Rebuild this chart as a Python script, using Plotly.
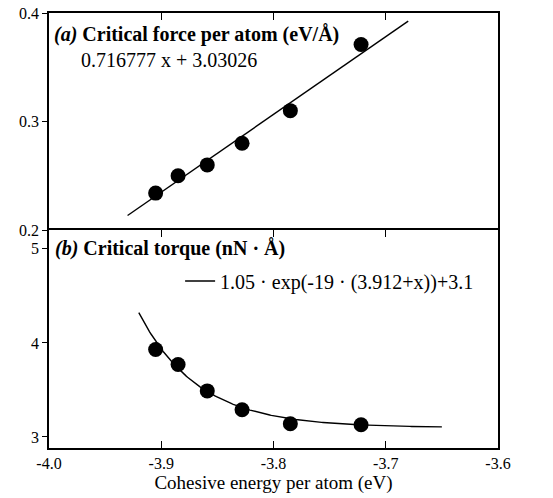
import numpy as np
import plotly.graph_objects as go

# ---- data ----
energy = [-3.905, -3.885, -3.859, -3.828, -3.785, -3.722]       # cohesive energy per atom (eV)
force = [0.234, 0.250, 0.260, 0.280, 0.310, 0.371]             # critical force per atom (eV/Å)
torque = [3.93, 3.77, 3.49, 3.29, 3.14, 3.13]                  # critical torque (nN·Å)

# fit (a): linear, as printed on the chart
force_slope, force_intercept = 0.716777, 3.03026
force_fit_x = [-3.93, -3.68]
# fit (b): 1.05*exp(-19*(3.912+x))+3.1, as printed in the legend
tq_amp, tq_rate, tq_shift, tq_base = 1.05, 19.0, 3.912, 3.1
torque_fit_range = (-3.92, -3.65)

x_ticks = [-4.0, -3.9, -3.8, -3.7, -3.6]
x_tick_labels = ["-4.0", "-3.9", "-3.8", "-3.7", "-3.6"]
force_ticks = [0.2, 0.3, 0.4]
force_tick_labels = ["0.2", "0.3", "0.4"]
torque_ticks = [3, 4, 5]
torque_tick_labels = ["3", "4", "5"]

FONT = "Liberation Serif, Times New Roman, serif"

fx = np.array(force_fit_x)
fy = force_slope * fx + force_intercept
tx = np.linspace(torque_fit_range[0], torque_fit_range[1], 200)
ty = tq_amp * np.exp(-tq_rate * (tq_shift + tx)) + tq_base

fig = go.Figure()
# top panel
fig.add_trace(go.Scatter(x=fx, y=fy, mode="lines", xaxis="x2", yaxis="y",
                         line=dict(color="black", width=1.4), showlegend=False))
fig.add_trace(go.Scatter(x=energy, y=force, mode="markers", xaxis="x2", yaxis="y",
                         marker=dict(color="black", size=15), showlegend=False))
# bottom panel
fig.add_trace(go.Scatter(x=tx, y=ty, mode="lines", xaxis="x", yaxis="y2",
                         line=dict(color="black", width=1.4),
                         name="1.05 · exp(-19 · (3.912+x))+3.1", showlegend=True))
fig.add_trace(go.Scatter(x=energy, y=torque, mode="markers", xaxis="x", yaxis="y2",
                         marker=dict(color="black", size=15), showlegend=False))

split = 218 / 435
axis_common = dict(showline=True, linecolor="black", linewidth=1.8, showgrid=False,
                   zeroline=False, tickcolor="black", tickwidth=1.3, automargin=False,
                   ticklabeloverflow="allow",
                   tickfont=dict(family=FONT, size=16, color="black"))

fig.update_layout(
    width=553, height=498,
    margin=dict(l=49, r=55, t=13, b=50),
    paper_bgcolor="white", plot_bgcolor="white",
    font=dict(family=FONT, color="black"),
    xaxis=dict(domain=[0, 1], range=[-4.0, -3.6], anchor="y2", tickvals=x_ticks,
               ticktext=x_tick_labels, ticks="inside", ticklen=7, mirror="ticks",
               title=dict(text="Cohesive energy per atom (eV)",
                          font=dict(family=FONT, size=19), standoff=4),
               **axis_common),
    xaxis2=dict(domain=[0, 1], range=[-4.0, -3.6], anchor="y", tickvals=x_ticks,
                side="top", showticklabels=False, ticks="inside", ticklen=7, mirror=False,
                **axis_common),
    yaxis=dict(domain=[split, 1], range=[0.2, 0.4], anchor="x2", tickvals=force_ticks,
               ticktext=force_tick_labels, ticks="outside", ticklen=5, mirror=True,
               **axis_common),
    yaxis2=dict(domain=[0, split], range=[2.883, 5.2], anchor="x", tickvals=torque_ticks,
                ticktext=torque_tick_labels, ticks="outside", ticklen=5, mirror=True,
                **axis_common),
    yaxis3=dict(overlaying="y", side="right", range=[0.2, 0.4], anchor="x2",
                tickvals=[0.3], ticks="inside", ticklen=6, showticklabels=False,
                showline=False, showgrid=False, zeroline=False, tickcolor="black", tickwidth=1.3),
    yaxis4=dict(overlaying="y2", side="right", range=[2.883, 5.2], anchor="x",
                tickvals=[4], ticks="inside", ticklen=6, showticklabels=False,
                showline=False, showgrid=False, zeroline=False, tickcolor="black", tickwidth=1.3),
    legend=dict(x=0.292, y=0.384, xanchor="left", yanchor="middle",
                bgcolor="rgba(0,0,0,0)", font=dict(family=FONT, size=20, color="black")),
    annotations=[
        dict(text="<b><i>(a)</i> Critical force per atom (eV/Å)</b>", xref="x2 domain",
             yref="y domain", x=0.006, y=0.903, xanchor="left", yanchor="middle",
             showarrow=False, font=dict(family=FONT, size=20, color="black")),
        dict(text="0.716777 x + 3.03026", xref="x2 domain", yref="y domain",
             x=0.066, y=0.783, xanchor="left", yanchor="middle", showarrow=False,
             font=dict(family=FONT, size=20, color="black")),
        dict(text="<b><i>(b)</i> Critical torque (nN · Å)</b>", xref="x domain",
             yref="y2 domain", x=0.008, y=0.913, xanchor="left", yanchor="middle",
             showarrow=False, font=dict(family=FONT, size=20, color="black")),
    ],
)

# remove the browser's default 8px body margin so the figure sits at the window origin
fig.write_html("out.html", config={"displayModeBar": False},
               post_script="document.body.style.margin='0px';")
